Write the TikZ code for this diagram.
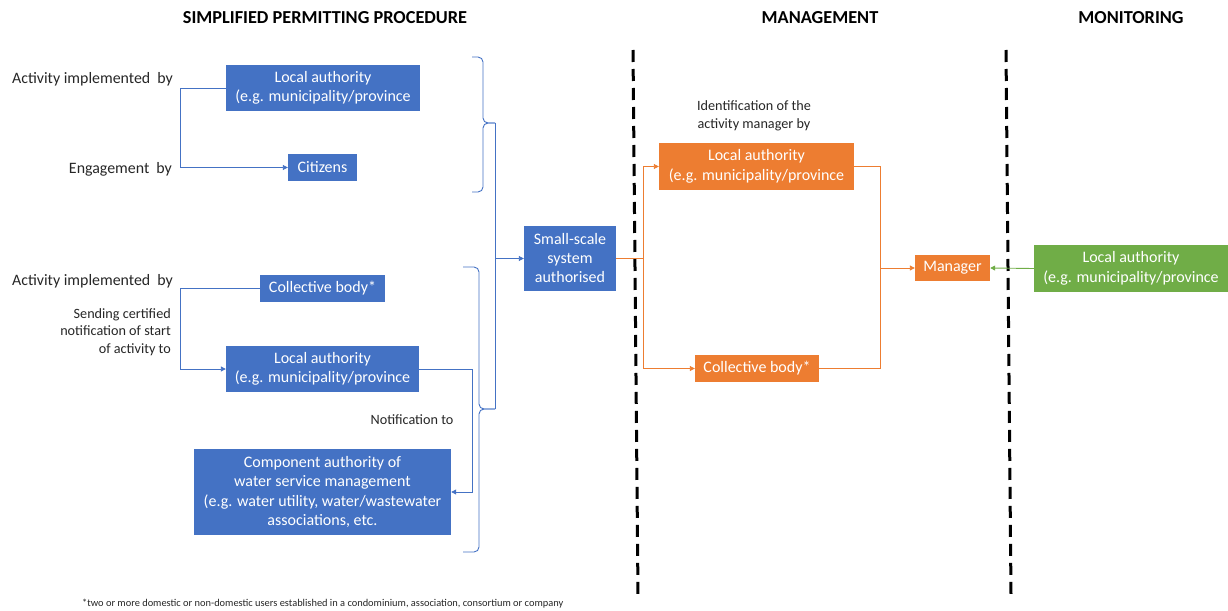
\documentclass[tikz,border=0pt]{standalone}
\usepackage{fontspec}
\setmainfont{Carlito}
\usetikzlibrary{arrows.meta}
\definecolor{bblue}{HTML}{4472C4}
\definecolor{borange}{HTML}{ED7D31}
\definecolor{bgreen}{HTML}{70AD47}
\definecolor{lbl}{HTML}{262626}
\tikzset{
  box/.style={inner sep=0pt, text=white, align=center, font=\fontsize{16}{19.5}\selectfont},
  bluebox/.style={box, fill=bblue},
  orangebox/.style={box, fill=borange},
  greenbox/.style={box, fill=bgreen},
  lab/.style={text=lbl, font=\fontsize{15.9}{18}\selectfont, inner sep=0pt},
  slab/.style={text=lbl, font=\fontsize{14.2}{17.5}\selectfont, inner sep=0pt},
  ttl/.style={text=black, font=\fontsize{18.3}{20}\selectfont\bfseries, inner sep=0pt},
  tip/.style={-{Triangle[length=5pt,width=5pt]}},
  bl/.style={draw=bblue, line width=0.9pt},
  ol/.style={draw=borange, line width=0.9pt},
  gl/.style={draw=bgreen, line width=0.9pt},
  brace/.style={draw=bblue, line width=0.9pt, rounded corners=5pt},
  divider/.style={draw=black, line width=3pt, dash pattern=on 12pt off 7pt}
}
\begin{document}
\begin{tikzpicture}[x=1pt,y=-1pt]
\useasboundingbox (0,0) rectangle (1228,610);

% titles
\node[ttl] (t1) at (325,18) {SIMPLIFIED PERMITTING PROCEDURE};
\node[ttl] (t2) at (820,18) {MANAGEMENT};
\node[ttl] (t3) at (1131,18) {MONITORING};

% dividers
\coordinate (d1a) at (633,50);
\coordinate (d1b) at (638,595);
\coordinate (d2a) at (1006,50);
\coordinate (d2b) at (1011,595);
\draw[divider] (d1a) -- (d1b);
\draw[divider] (d2a) -- (d2b);

% blue nodes
\node[bluebox, minimum width=194pt, minimum height=46pt] (la1) at (323,88) {Local authority\\(e.g. municipality/province};
\node[bluebox, minimum width=69pt, minimum height=27pt] (cit) at (322.5,167.5) {Citizens};
\node[bluebox, minimum width=125pt, minimum height=27pt] (cb1) at (322.5,288.5) {Collective body*};
\node[bluebox, minimum width=193pt, minimum height=46pt] (la2) at (322.5,369) {Local authority\\(e.g. municipality/province};
\node[bluebox, minimum width=257pt, minimum height=86pt] (comp) at (322.5,492) {Component authority of\\water service management\\(e.g. water utility, water/wastewater\\associations, etc.};
\node[bluebox, minimum width=92pt, minimum height=65pt, font=\fontsize{16}{19}\selectfont] (ss) at (570,258.5) {Small-scale\\system\\authorised};

% orange nodes
\node[orangebox, minimum width=195pt, minimum height=47pt] (la3) at (756.5,166.5) {Local authority\\(e.g. municipality/province};
\node[orangebox, minimum width=124pt, minimum height=27pt] (cb2) at (757,368.5) {Collective body*};
\node[orangebox, minimum width=75pt, minimum height=26pt] (mgr) at (952.5,268) {Manager};

% green node
\node[greenbox, minimum width=194pt, minimum height=47pt] (la4) at (1131,268.5) {Local authority\\(e.g. municipality/province};

% labels
\node[lab, anchor=east] (l1) at (173,79) {Activity implemented\hspace{7pt}by};
\node[lab, anchor=east] (l2) at (172,169) {Engagement\hspace{7pt}by};
\node[lab, anchor=east] (l3) at (173,281) {Activity implemented\hspace{7pt}by};
\node[slab, anchor=east, align=right] (l4) at (171,332) {Sending certified\\notification of start\\of activity to};
\node[slab] (l5) at (412,420) {Notification to};
\node[slab, align=center] (l6) at (754,116) {Identification of the\\activity manager by};
\node[text=lbl, font=\fontsize{10.4}{12}\selectfont, inner sep=0pt, anchor=west] (fn) at (82,604) {*two or more domestic or non-domestic users established in a condominium, association, consortium or company};

% left elbow connectors
\draw[bl, tip] (la1.west) -- ++(-45,0) |- (cit.west);
\draw[bl, tip] (cb1.west) -- ++(-79,0) |- (la2.west);
\draw[bl, tip] (la2.east) -- ++(53,0) |- (comp.east);

% braces
\coordinate (b1t) at (472,57);
\coordinate (b1b) at (472,192);
\coordinate (b1tip) at (495,123);
\coordinate (b2t) at (463,267);
\coordinate (b2b) at (463,552);
\coordinate (b2tip) at (495,409);
\draw[brace] (b1t) -- (483,57) -- (483,123) -- (b1tip);
\draw[brace] (b1tip) -- (483,123) -- (483,192) -- (b1b);
\draw[brace] (b2t) -- (479,267) -- (479,409) -- (b2tip);
\draw[brace] (b2tip) -- (479,409) -- (479,552) -- (b2b);
\draw[bl] (b1tip) -- (b2tip);
\draw[bl, tip] (b1tip |- ss.west) -- (ss.west);

% orange connectors
\draw[ol] (ss.east) -- ++(27,0) coordinate (osplit);
\draw[ol, tip] (osplit) |- (la3.west);
\draw[ol, tip] (osplit) |- (cb2.west);
\draw[ol] (la3.east) -- ++(26,0) coordinate (ojoin) |- (cb2.east);
\draw[ol, tip] (ojoin |- mgr.west) -- (mgr.west);

% green connector
\draw[gl, tip] (la4.west) -- (mgr.east);
\end{tikzpicture}
\end{document}
